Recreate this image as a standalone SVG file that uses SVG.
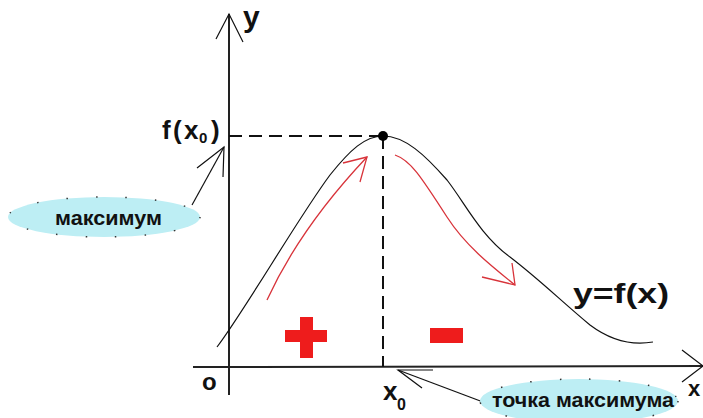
<svg xmlns="http://www.w3.org/2000/svg" width="703" height="418" viewBox="0 0 703 418">
<defs>
<style>
.t{font-family:"Liberation Sans",Arial,sans-serif;font-weight:bold;fill:#111}
.ax{stroke:#222;stroke-width:2;fill:none}
.thin{stroke:#111;stroke-width:1.2;fill:none}
.dash{stroke:#111;stroke-width:2;fill:none;stroke-dasharray:13 7}
.red{stroke:#d8333a;stroke-width:1.3;fill:none}
.sign{fill:#ee1c1c}
.bubble{fill:#bdeef4;stroke:#333;stroke-width:1.5;stroke-dasharray:1.5 28}
</style>
</defs>
<rect width="703" height="418" fill="#fff"/>

<g id="axes">
<path class="ax" d="M229,395 L229,14"/>
<path class="thin" d="M216,39 L229,14 L243,42"/>
<path class="ax" d="M193,367 L703,366"/>
<path class="thin" d="M682,350 L703,366 L682,382"/>
<text class="t" x="243" y="27" font-size="30">y</text>
<text class="t" x="688" y="396" font-size="22">x</text>
<text class="t" x="202" y="390" font-size="24">o</text>
</g>

<g id="connectors">
<path class="dash" d="M229,136 L383,136"/>
<path class="dash" d="M383,136 L383,367"/>
<path class="thin" d="M192,205 L224,147"/>
<path class="thin" d="M197,168 L224,147 L223,177"/>
<path class="thin" d="M483,402 L398,370"/>
<path class="thin" d="M433,370 L398,370 L422,388"/>
</g>

<g id="curve">
<path class="thin" d="M217,347 C245,310 300,215 330,175 C350,150 365,136 383,136 C405,136 425,155 447,180 C465,203 480,235 510,257 C540,280 560,300 590,325 C610,340 630,346 653,342"/>
<circle cx="383" cy="136" r="5" fill="#000"/>
<text class="t" x="573" y="303" font-size="27" textLength="96" lengthAdjust="spacingAndGlyphs">y=f(x)</text>
</g>

<g id="increase-arrow">
<path class="red" d="M267,300 Q300,228 367,157"/>
<path class="red" d="M343,163 L367,157 L360,182"/>
</g>

<g id="decrease-arrow">
<path class="red" d="M395,155 C410,160 420,175 447,217 C465,245 490,265 515,285"/>
<path class="red" d="M482,277 L515,285 L512,263"/>
</g>

<g id="plus">
<rect class="sign" x="300" y="317" width="13" height="41"/>
<rect class="sign" x="285" y="330" width="42" height="12"/>
</g>

<g id="minus">
<rect class="sign" x="430" y="328" width="33" height="15"/>
</g>

<g id="fx0-label">
<text class="t" font-size="26" y="139"><tspan x="162">f</tspan><tspan x="173">(</tspan><tspan x="184">x</tspan><tspan x="199" y="143" font-size="15">0</tspan><tspan x="211" y="139">)</tspan></text>
</g>

<g id="x0-label">
<text class="t" x="383" y="400" font-size="26">x</text>
<text class="t" x="397" y="410" font-size="16">0</text>
</g>

<g id="maximum">
<ellipse class="bubble" cx="104" cy="217" rx="96" ry="20"/>
<text class="t" x="55" y="225" font-size="21" textLength="107" lengthAdjust="spacingAndGlyphs">максимум</text>
</g>

<g id="max-point">
<ellipse class="bubble" cx="579" cy="401" rx="99" ry="22"/>
<text class="t" x="492" y="407" font-size="21" textLength="182" lengthAdjust="spacingAndGlyphs">точка максимума</text>
</g>
</svg>
